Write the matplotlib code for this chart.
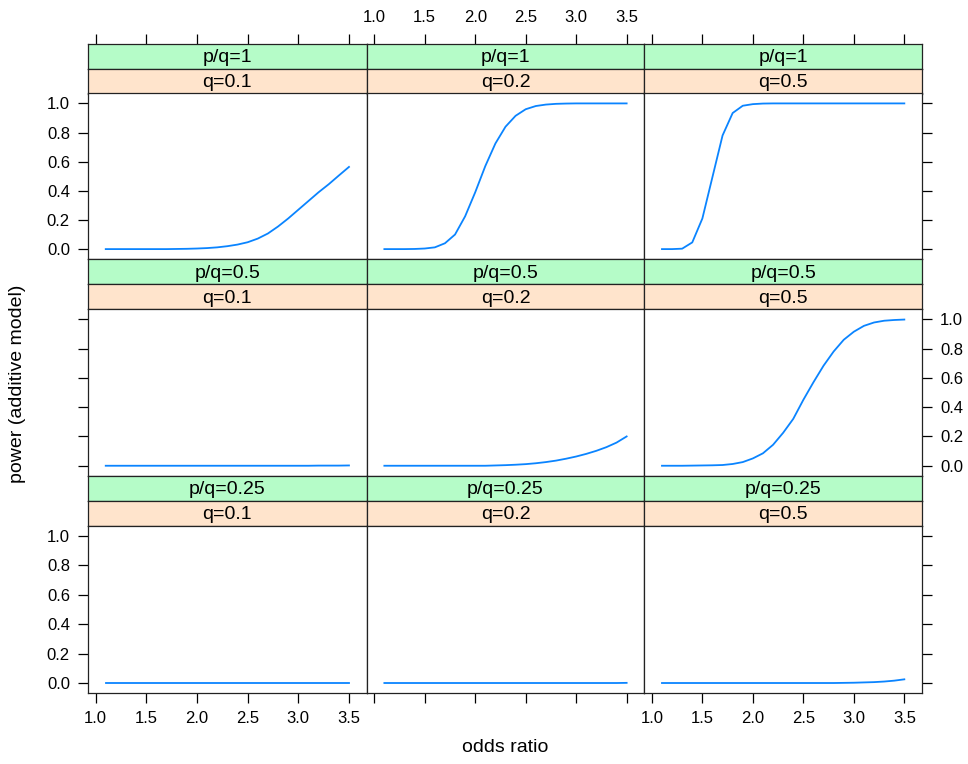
import matplotlib
matplotlib.use("Agg")
import matplotlib.pyplot as plt

plt.rcParams['font.family'] = ['Liberation Sans', 'DejaVu Sans']

# odds ratio values where power was evaluated
odds_ratio = [1.1, 1.2, 1.3, 1.4, 1.5, 1.6, 1.7, 1.8, 1.9, 2.0, 2.1, 2.2, 2.3,
              2.4, 2.5, 2.6, 2.7, 2.8, 2.9, 3.0, 3.1, 3.2, 3.3, 3.4, 3.5]

# power curves, one per panel (p/q ratio, q)
power_pq1_q01 = [0, 0, 0, 0, 0, 0, 0, 0.001, 0.002, 0.004, 0.007, 0.012, 0.02,
                 0.031, 0.047, 0.072, 0.107, 0.155, 0.21, 0.27, 0.33, 0.39, 0.445, 0.505, 0.564]
power_pq1_q02 = [0, 0, 0, 0.001, 0.004, 0.012, 0.04, 0.10, 0.225, 0.39, 0.57, 0.725, 0.84,
                 0.915, 0.96, 0.982, 0.992, 0.997, 0.999, 1, 1, 1, 1, 1, 1]
power_pq1_q05 = [0, 0, 0.003, 0.046, 0.21, 0.495, 0.78, 0.934, 0.984, 0.995, 0.999, 1, 1,
                 1, 1, 1, 1, 1, 1, 1, 1, 1, 1, 1, 1]
power_pq05_q01 = [0, 0, 0, 0, 0, 0, 0, 0, 0, 0, 0, 0, 0,
                  0, 0, 0, 0, 0, 0, 0, 0, 0.001, 0.001, 0.001, 0.002]
power_pq05_q02 = [0, 0, 0, 0, 0, 0, 0, 0, 0, 0, 0, 0.002, 0.004,
                  0.007, 0.011, 0.017, 0.025, 0.035, 0.048, 0.063, 0.081, 0.102, 0.127, 0.158, 0.20]
power_pq05_q05 = [0, 0, 0, 0.001, 0.002, 0.003, 0.005, 0.012, 0.025, 0.05, 0.085, 0.143, 0.225,
                  0.32, 0.45, 0.57, 0.683, 0.78, 0.86, 0.915, 0.955, 0.978, 0.99, 0.995, 0.998]
power_pq025_q01 = [0, 0, 0, 0, 0, 0, 0, 0, 0, 0, 0, 0, 0,
                   0, 0, 0, 0, 0, 0, 0, 0, 0, 0, 0, 0]
power_pq025_q02 = [0, 0, 0, 0, 0, 0, 0, 0, 0, 0, 0, 0, 0,
                   0, 0, 0, 0, 0, 0, 0, 0, 0, 0, 0, 0.001]
power_pq025_q05 = [0, 0, 0, 0, 0, 0, 0, 0, 0, 0, 0, 0, 0,
                   0, 0, 0, 0, 0, 0.001, 0.002, 0.004, 0.006, 0.010, 0.016, 0.025]

pq_labels = ["p/q=1", "p/q=0.5", "p/q=0.25"]
q_labels = ["q=0.1", "q=0.2", "q=0.5"]
panel_power = [[power_pq1_q01, power_pq1_q02, power_pq1_q05],
               [power_pq05_q01, power_pq05_q02, power_pq05_q05],
               [power_pq025_q01, power_pq025_q02, power_pq025_q05]]

x_ticks = [1.0, 1.5, 2.0, 2.5, 3.0, 3.5]
y_ticks = [0.0, 0.2, 0.4, 0.6, 0.8, 1.0]

# layout in pixels (lattice style grid)
W, H = 968, 764
col_edges = [88, 366.7, 644.3, 922]
strip_tops = [43.5, 259.3, 476]
plot_bottoms = [259.3, 476, 693.3]
strip_h = 25

green = '#b5fcc8'
peach = '#ffe4cc'
line_col = '#0a84ff'
xlim = (0.925, 3.675)
ylim = (-0.07, 1.068)

fig = plt.figure(figsize=(W / 100, H / 100), dpi=100)


def add_px_axes(x0, x1, ytop, ybot):
    return fig.add_axes([x0 / W, 1 - ybot / H, (x1 - x0) / W, (ybot - ytop) / H])


def style_spines(ax):
    for s in ax.spines.values():
        s.set_linewidth(0.9)
        s.set_color('#222222')


for r in range(3):
    for c in range(3):
        x0, x1 = col_edges[c], col_edges[c + 1]
        top = strip_tops[r]

        # outer strip (p/q) and inner strip (q)
        for k, (label, colr) in enumerate([(pq_labels[r], green), (q_labels[c], peach)]):
            sax = add_px_axes(x0, x1, top + k * strip_h, top + (k + 1) * strip_h)
            sax.set_facecolor(colr)
            sax.set_xlim(xlim)
            sax.set_yticks([])
            sax.text(0.5, 0.45, label, transform=sax.transAxes, ha='center', va='center', fontsize=14)
            style_spines(sax)
            if r == 0 and k == 0:
                # top axis ticks live on the outermost strip
                sax.xaxis.tick_top()
                sax.set_xticks(x_ticks)
                sax.set_xticklabels([f"{t:.1f}" for t in x_ticks] if c == 1 else [])
                sax.tick_params(axis='x', direction='out', length=7, width=0.9, pad=6, labelsize=12)
            else:
                sax.set_xticks([])

        ax = add_px_axes(x0, x1, top + 2 * strip_h, plot_bottoms[r])
        ax.plot(odds_ratio, panel_power[r][c], color=line_col, linewidth=1.3)
        ax.set_xlim(xlim)
        ax.set_ylim(ylim)
        ax.set_xticks(x_ticks)
        ax.set_yticks(y_ticks)
        ax.set_xticklabels([f"{t:.1f}" for t in x_ticks])
        ax.set_yticklabels([f"{t:.1f}" for t in y_ticks])
        ax.yaxis.set_ticks_position('both')
        ax.tick_params(direction='out', length=7, width=0.9, pad=6, labelsize=12,
                       left=(c == 0), right=(c == 2), bottom=(r == 2), top=False,
                       labelleft=(c == 0 and r != 1), labelright=(c == 2 and r == 1),
                       labelbottom=(r == 2 and c != 1), labeltop=False)
        style_spines(ax)

fig.text(18 / W, 1 - 384 / H, "power (additive model)", rotation=90, ha='center', va='center', fontsize=14)
fig.text(505 / W, 1 - 748 / H, "odds ratio", ha='center', va='center', fontsize=14)

plt.savefig("out.png", dpi=100)
